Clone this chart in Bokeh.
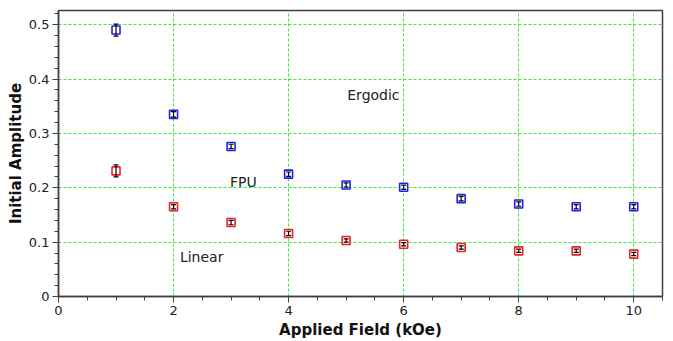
from bokeh.plotting import figure
from bokeh.models import ColumnDataSource, Whisker, TeeHead, Range1d, Label
from bokeh.embed import file_html
from bokeh.resources import INLINE

field = [1, 2, 3, 4, 5, 6, 7, 8, 9, 10]
ergodic = [0.490, 0.335, 0.276, 0.225, 0.205, 0.201, 0.180, 0.170, 0.165, 0.165]
ergodic_err = [0.011, 0.005, 0.004, 0.004, 0.004, 0.004, 0.004, 0.004, 0.004, 0.004]
linear = [0.231, 0.165, 0.136, 0.116, 0.103, 0.096, 0.090, 0.084, 0.084, 0.078]
linear_err = [0.011, 0.004, 0.004, 0.004, 0.003, 0.003, 0.003, 0.003, 0.003, 0.003]

labels = [("Ergodic", 5.02, 0.371), ("FPU", 2.98, 0.211), ("Linear", 2.11, 0.073)]

FONT = "DejaVu Sans"

p = figure(width=673, height=341, output_backend="svg", toolbar_location=None,
           x_range=Range1d(0, 10.5), y_range=Range1d(0, 0.526),
           min_border_left=58, min_border_right=11, min_border_top=10, min_border_bottom=45)
p.background_fill_color = "white"
p.border_fill_color = "white"
p.outline_line_color = "#404040"
p.outline_line_width = 1.5

for ax in (p.xaxis[0], p.yaxis[0]):
    ax.axis_line_color = "#404040"
    ax.axis_line_width = 1.5
    ax.major_tick_line_color = "#404040"
    ax.minor_tick_line_color = "#404040"
    ax.major_tick_out = 6
    ax.major_tick_in = 0
    ax.minor_tick_out = 4
    ax.minor_tick_in = 0
    ax.major_label_standoff = 3
    ax.major_label_text_font = FONT
    ax.major_label_text_font_size = "13px"
    ax.major_label_text_color = "#222222"
    ax.axis_label_text_font = FONT
    ax.axis_label_text_font_size = "15px"
    ax.axis_label_text_font_style = "bold"
    ax.axis_label_text_color = "#111111"

p.xaxis.ticker.desired_num_ticks = 6
p.xaxis[0].ticker.num_minor_ticks = 4
p.yaxis[0].ticker.num_minor_ticks = 5
p.xaxis.axis_label = "Applied Field (kOe)"
p.yaxis.axis_label = "Initial Amplitude"
p.yaxis.major_label_orientation = "horizontal"
p.xaxis.axis_label_standoff = 3
p.yaxis.axis_label_standoff = 1

for g in (p.xgrid[0], p.ygrid[0]):
    g.grid_line_color = "#33ee33"
    g.grid_line_dash = "3 2"
    g.grid_line_width = 1

src_e = ColumnDataSource(dict(x=field, y=ergodic,
                              lo=[v - e for v, e in zip(ergodic, ergodic_err)],
                              hi=[v + e for v, e in zip(ergodic, ergodic_err)]))
src_l = ColumnDataSource(dict(x=field, y=linear,
                              lo=[v - e for v, e in zip(linear, linear_err)],
                              hi=[v + e for v, e in zip(linear, linear_err)]))

p.scatter("x", "y", source=src_e, marker="square", size=8, line_color="#2020ee",
          line_width=1.6, fill_color="white")
p.scatter("x", "y", source=src_l, marker="square", size=8, line_color="#ee2020",
          line_width=1.6, fill_color="white")

for src in (src_e, src_l):
    w = Whisker(source=src, base="x", lower="lo", upper="hi", line_color="black", line_width=1.2,
                level="overlay",
                upper_head=TeeHead(size=5, line_color="black", line_width=1.2),
                lower_head=TeeHead(size=5, line_color="black", line_width=1.2))
    p.add_layout(w)

for txt, x, y in labels:
    p.add_layout(Label(x=x, y=y, text=txt, text_font=FONT, text_font_size="14px",
                       text_color="#222222", text_baseline="middle", text_align="left"))

open("out.html", "w").write(file_html(p, INLINE))
